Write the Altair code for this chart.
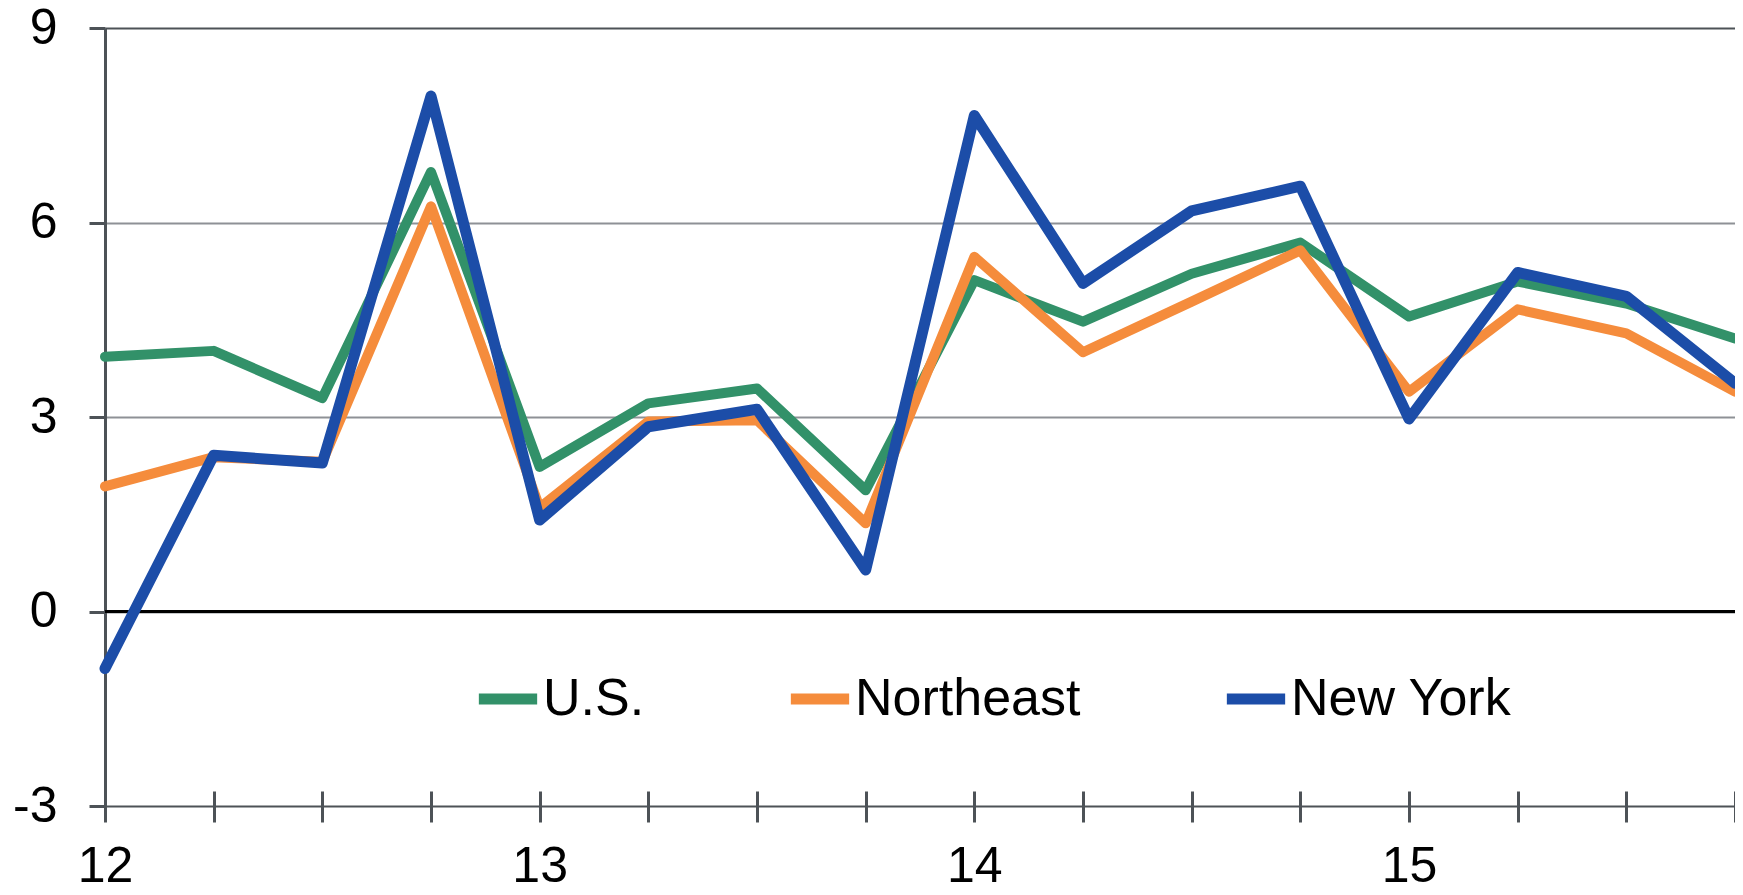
import altair as alt
import pandas as pd

quarters = [12 + i * 0.25 for i in range(16)]
us = [3.93, 4.02, 3.29, 6.78, 2.23, 3.21, 3.44, 1.87, 5.11, 4.47, 5.21, 5.69, 4.55, 5.09, 4.75, 4.21]
northeast = [1.93, 2.38, 2.31, 6.25, 1.60, 2.93, 2.95, 1.36, 5.47, 4.00, 4.78, 5.57, 3.39, 4.66, 4.29, 3.39]
new_york = [-0.88, 2.41, 2.29, 7.95, 1.41, 2.85, 3.12, 0.64, 7.65, 5.06, 6.18, 6.56, 2.97, 5.23, 4.86, 3.52]

series_names = ["U.S.", "Northeast", "New York"]
series_colors = ["#329169", "#F58C3C", "#1C4DA8"]
y_ticks = [-3, 0, 3, 6, 9]

rows = []
for name, vals in zip(series_names, [us, northeast, new_york]):
    for q, v in zip(quarters, vals):
        rows.append({"quarter": q, "value": v, "series": name})
df = pd.DataFrame(rows)

axis_dark = "#4d5257"
grid_gray = "#8e9196"

x_enc = alt.X("quarter:Q",
              scale=alt.Scale(domain=[12, 15.75], nice=False, zero=False),
              axis=alt.Axis(values=quarters, title=None, domain=False, grid=False,
                            offset=-15, tickSize=31, tickWidth=3, tickColor=axis_dark,
                            labelExpr="datum.value % 1 == 0 ? format(datum.value, 'd') : ''",
                            labelFontSize=50, labelFont="Liberation Sans", labelColor="black",
                            labelPadding=19, labelFlush=False, labelOverlap=False))
y_enc = alt.Y("value:Q",
              scale=alt.Scale(domain=[-3, 9], nice=False, zero=False),
              axis=alt.Axis(values=y_ticks, title=None, labelExpr="datum.value + ''",
                            domain=True, domainColor=axis_dark, domainWidth=3, tickSize=16,
                            tickWidth=3, tickColor=axis_dark, grid=True, gridWidth=2,
                            gridColor={"condition": {"test": "datum.value == 9 || datum.value == -3",
                                                     "value": axis_dark},
                                       "value": grid_gray},
                            labelFontSize=50, labelFont="Liberation Sans", labelColor="black",
                            labelPadding=32))
color_enc = alt.Color("series:N",
                      scale=alt.Scale(domain=series_names, range=series_colors),
                      sort=series_names,
                      legend=alt.Legend(title=None, orient="none", direction="horizontal",
                                        legendX=368, legendY=636, columns=3,
                                        symbolType="stroke", symbolSize=3400,
                                        symbolStrokeWidth=11, labelFontSize=52,
                                        labelFont="Liberation Sans", labelColor="black",
                                        labelOffset=0, columnPadding=123, padding=0,
                                        labelLimit=400))

base = alt.Chart(df).encode(x=x_enc, y=y_enc, color=color_enc, order=alt.Order("quarter:Q"))

lines_thin = base.transform_filter("datum.series != 'New York'").mark_line(
    strokeWidth=10, strokeJoin="round", strokeCap="round")
lines_ny = base.transform_filter("datum.series == 'New York'").mark_line(
    strokeWidth=11, strokeJoin="round", strokeCap="round")

zero = alt.Chart(pd.DataFrame({"z": [0]})).mark_rule(color="black", strokeWidth=3).encode(
    y=alt.Y("z:Q")
)

chart = alt.layer(zero, lines_thin, lines_ny).properties(
    width=1630,
    height=778,
    autosize=alt.AutoSizeParams(type="none"),
    padding={"left": 97, "top": 20, "right": 0, "bottom": 86},
).configure_view(
    stroke=axis_dark, strokeWidth=3
).configure(background="white")

chart.save("out.html", embed_options={"renderer": "svg", "actions": False})
